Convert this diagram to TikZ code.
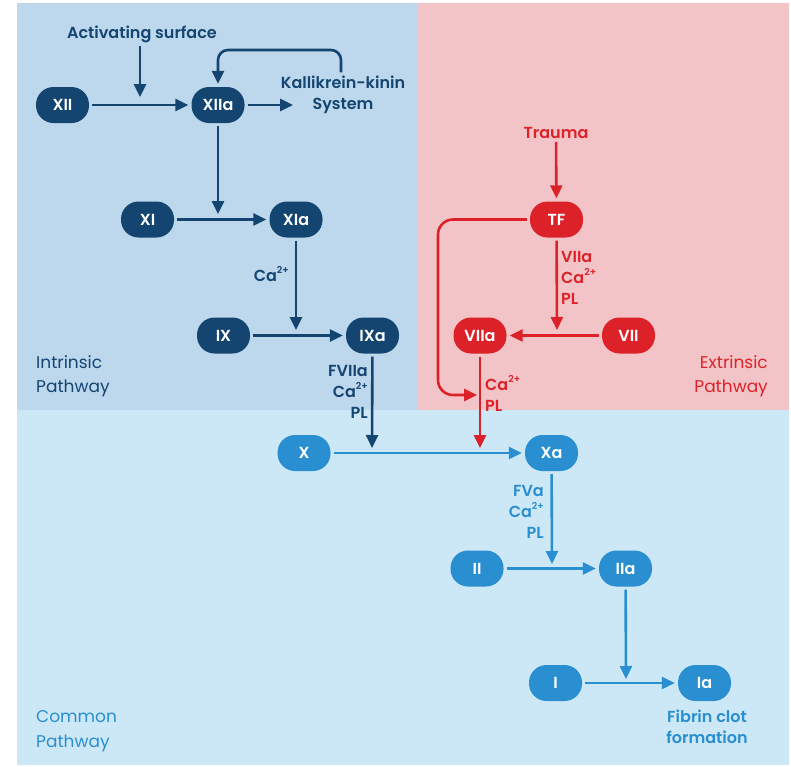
\documentclass[tikz,border=0pt]{standalone}
\usepackage{fontspec}
\setmainfont{Poppins}[BoldFont={Poppins SemiBold}]
\usetikzlibrary{arrows.meta}
\definecolor{navy}{RGB}{19,69,112}
\definecolor{cred}{RGB}{220,34,40}
\definecolor{cblue}{RGB}{42,143,208}
\definecolor{bgint}{RGB}{189,215,237}
\definecolor{bgext}{RGB}{242,196,199}
\definecolor{bgcom}{RGB}{204,231,245}
\newcommand{\caion}{Ca\raisebox{0.5em}{\fontsize{9.5}{10}\selectfont 2+}}
\begin{document}
\begin{tikzpicture}[x=1pt,y=-1pt,
  pill/.style={rectangle,rounded corners=17.5pt,minimum width=53pt,minimum height=36pt,inner sep=0pt,text=white,font=\fontsize{16}{18}\selectfont\bfseries},
  lbl/.style={inner sep=0pt,font=\fontsize{16}{21}\selectfont\bfseries},
  pw/.style={inner sep=0pt,font=\fontsize{17}{24.5}\selectfont},
  conn/.style={line width=2.6pt,-{Triangle[length=13pt,width=12pt]},shorten >=3pt,shorten <=3pt},
  nv/.style={conn,draw=navy},
  rd/.style={conn,draw=cred},
  bl/.style={conn,draw=cblue}]
\useasboundingbox (0,0) rectangle (791,766);
\fill[white] (0,0) rectangle (791,766);
\fill[bgint] (17,3) rectangle (417,410);
\fill[bgext] (417,3) rectangle (789,410);
\fill[bgcom] (17,410) rectangle (789,765);

% intrinsic
\node[pill,fill=navy] (xii) at (62.5,105) {XII};
\node[pill,fill=navy] (xiia) at (218,105) {XIIa};
\node[pill,fill=navy] (xi) at (147.5,219.5) {XI};
\node[pill,fill=navy] (xia) at (296,219.5) {XIa};
\node[pill,fill=navy] (ix) at (223.5,335.5) {IX};
\node[pill,fill=navy] (ixa) at (372.5,335.5) {IXa};
\node[lbl,text=navy] (act) at (142,34) {Activating surface};
\node[lbl,text=navy,align=center] (kk) at (343,94.5) {Kallikrein-kinin\\System};
\node[lbl,text=navy,anchor=east] (ca1) at (289,274) {\caion};
\node[lbl,text=navy,anchor=east,align=right] (l1) at (368,392) {FVIIa\\\caion\\PL};
\node[pw,text=navy,anchor=west,align=left] (ip) at (36,376) {Intrinsic\\Pathway};
\coordinate (j1) at (140,100);
\coordinate (kkin) at (296,105);
\coordinate (j2) at (218,214);
\coordinate (j3) at (296,330);
\coordinate (j4) at (372,448);
\draw[nv] (act.south -| j1) -- (j1);
\draw[nv] (xii) -- (xiia);
\draw[nv] (xiia) -- (kkin);
\draw[nv,rounded corners=10pt] (kk.north -| 341,0) -- (341,50) -- (218,50) -- (xiia.north);
\draw[nv,shorten >=0pt] (xiia) -- (j2);
\draw[nv] (xi) -- (xia);
\draw[nv,shorten >=0pt] (xia) -- (j3);
\draw[nv] (ix) -- (ixa);
\draw[nv,shorten >=0pt] (ixa) -- (j4);

% extrinsic
\node[pill,fill=cred] (tf) at (556.5,219.5) {TF};
\node[pill,fill=cred] (viia) at (480,335.5) {VIIa};
\node[pill,fill=cred] (vii) at (628.5,335.5) {VII};
\node[lbl,text=cred] (trauma) at (556,133) {Trauma};
\node[lbl,text=cred,anchor=west,align=left] (l2) at (561,278) {VIIa\\\caion\\PL};
\node[lbl,text=cred,anchor=west,align=left] (l3) at (485,393) {\caion\\PL};
\node[pw,text=cred,anchor=east,align=right] (ep) at (768,376) {Extrinsic\\Pathway};
\coordinate (j5) at (557,330);
\coordinate (j6) at (477,395);
\coordinate (j7) at (480,448);
\draw[rd] (trauma) -- (tf);
\draw[rd,shorten >=0pt] (tf) -- (j5);
\draw[rd] (vii) -- (viia);
\draw[rd,shorten >=0pt,rounded corners=15pt] (tf.west) -- (438,219.5) -- (438,395) -- (j6);
\draw[rd,shorten >=0pt] (viia) -- (j7);

% common
\node[pill,fill=cblue] (x) at (304,453) {X};
\node[pill,fill=cblue] (xa) at (551.5,453) {Xa};
\node[pill,fill=cblue] (ii) at (477,568.5) {II};
\node[pill,fill=cblue] (iia) at (625.5,568.5) {IIa};
\node[pill,fill=cblue] (i) at (555.5,683) {I};
\node[pill,fill=cblue] (ia) at (704.5,683) {Ia};
\node[lbl,text=cblue,anchor=east,align=right] (l4) at (544,512) {FVa\\\caion\\PL};
\node[lbl,text=cblue,align=center] (fib) at (707,727) {Fibrin clot\\formation};
\node[pw,text=cblue,anchor=west,align=left] (cp) at (36,731) {Common\\Pathway};
\coordinate (j8) at (552,564);
\coordinate (j9) at (626,679);
\draw[bl] (x) -- (xa);
\draw[bl,shorten >=0pt] (xa) -- (j8);
\draw[bl] (ii) -- (iia);
\draw[bl,shorten >=0pt] (iia) -- (j9);
\draw[bl] (i) -- (ia);
\end{tikzpicture}
\end{document}
